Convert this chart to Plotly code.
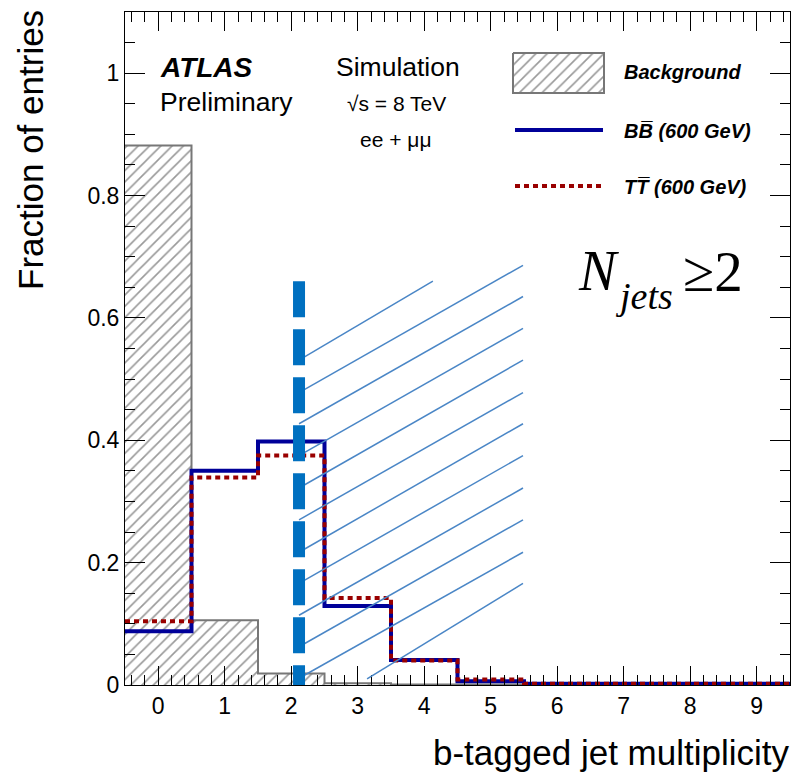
import plotly.graph_objects as go

# ---------------- data ----------------
bin_edges = [-0.5, 0.5, 1.5, 2.5, 3.5, 4.5, 5.5, 6.5, 7.5, 8.5, 9.5]
tick_labels = ["0", "1", "2", "3", "4", "5", "6", "7", "8", "9"]
background = [0.882, 0.106, 0.019, 0.003, 0.001, 0.001, 0.0, 0.0, 0.0, 0.0]
bb_600 = [0.088, 0.350, 0.398, 0.129, 0.041, 0.006, 0.002, 0.002, 0.002, 0.002]
tt_600 = [0.104, 0.339, 0.375, 0.142, 0.040, 0.009, 0.002, 0.002, 0.002, 0.002]

# hand-drawn overlay (dashed cut line + hatched region), in data units
cut_x = 2.117
cut_y_top = 0.660
hatch_x0 = [2.117] * 11 + [3.14]
hatch_y0 = [0.531, 0.478, 0.427, 0.375, 0.322, 0.270, 0.217, 0.166, 0.114, 0.0625, 0.011, 0.010]
hatch_x1 = [4.13] + [5.485] * 11
hatch_y1 = [0.660, 0.686, 0.635, 0.583, 0.531, 0.478, 0.427, 0.375, 0.322, 0.270, 0.217, 0.166]

FONT = "Liberation Sans, Arial, Helvetica, sans-serif"
SERIF = "Liberation Serif, Times New Roman, serif"
BLUE = "#000099"
RED = "#990000"
GRAY = "#777777"
HATCH = dict(shape="/", fgcolor="#333333", bgcolor="white", size=8, solidity=0.2)

# plot area in pixels (for placing decorations)
PL, PR, PT, PB = 125, 790, 12, 685


def step(vals):
    return list(vals) + [vals[-1]]


def px(x):
    return (x - PL) / (PR - PL)


def py(y):
    return (PB - y) / (PB - PT)


fig = go.Figure()

fig.add_trace(go.Scatter(
    x=bin_edges, y=step(background), mode="lines", line_shape="hv",
    line=dict(color=GRAY, width=2), fill="tozeroy", fillcolor="white",
    fillpattern=HATCH, showlegend=False, hoverinfo="skip"))
fig.add_trace(go.Scatter(
    x=bin_edges, y=step(bb_600), mode="lines", line_shape="hv",
    line=dict(color=BLUE, width=4), showlegend=False))
fig.add_trace(go.Scatter(
    x=bin_edges, y=step(tt_600), mode="lines", line_shape="hv",
    line=dict(color=RED, width=4, dash="5px,4px"), showlegend=False))

# legend hatched box on pixel overlay axes
fig.add_trace(go.Scatter(
    x=[513, 604, 604, 513, 513], y=[53, 53, 93, 93, 53], xaxis="x2", yaxis="y2",
    mode="lines", line=dict(color=GRAY, width=2), fill="toself", fillcolor="white",
    fillpattern=HATCH, showlegend=False, hoverinfo="skip"))

shapes = []
for a, b, c, d in zip(hatch_x0, hatch_y0, hatch_x1, hatch_y1):
    shapes.append(dict(type="line", xref="x", yref="y", x0=a, y0=b, x1=c, y1=d,
                       line=dict(color="#4a86c6", width=1.5)))
shapes.append(dict(type="line", xref="x", yref="y", x0=cut_x, y0=cut_y_top, x1=cut_x, y1=0,
                   line=dict(color="#0070c0", width=12, dash="36px,12px")))
shapes.append(dict(type="line", xref="x2", yref="y2", x0=515, x1=603, y0=130, y1=130,
                   line=dict(color=BLUE, width=4)))
shapes.append(dict(type="line", xref="x2", yref="y2", x0=515, x1=603, y0=186, y1=186,
                   line=dict(color=RED, width=4, dash="5px,4px")))

ann = []


def txt(s, x, y, size, xanchor="left", yanchor="middle", family=FONT, angle=0):
    ann.append(dict(text=s, x=px(x), y=py(y), xref="paper", yref="paper", showarrow=False,
                    xanchor=xanchor, yanchor=yanchor, textangle=angle,
                    font=dict(family=family, size=size, color="black")))


txt("<b><i>ATLAS</i></b>", 158, 67, 28)
txt("Preliminary", 158, 102, 26.5)
txt("Simulation", 334, 67, 26.5)
txt("√s = 8 TeV", 396, 104, 21, xanchor="center")
txt("ee + μμ", 396, 139, 21, xanchor="center")
txt("<b><i>Background</i></b>", 622, 72, 20)
txt("<b><i>BB\u0305 (600 GeV)</i></b>", 622, 131, 20)
txt("<b><i>TT\u0305 (600 GeV)</i></b>", 622, 187, 20)
txt("<i>N</i>", 576, 271, 56, family=SERIF)
txt("<i>jets</i>", 613, 296, 38, family=SERIF)
txt("≥2", 681, 271, 57, family=SERIF)
txt("Fraction of entries", 30, 8, 35, xanchor="center", yanchor="top", angle=-90)
txt("b-tagged jet multiplicity", 791, 752, 35, xanchor="right")

fig.update_layout(
    width=792, height=772,
    margin=dict(l=PL, r=792 - PR, t=PT, b=772 - PB),
    paper_bgcolor="white", plot_bgcolor="white",
    showlegend=False,
    font=dict(family=FONT, size=23, color="black"),
    xaxis=dict(range=[-0.5, 9.5], tickvals=list(range(10)), ticktext=tick_labels,
               ticks="inside", ticklen=19, tickwidth=1, tickcolor="black",
               minor=dict(dtick=0.2, tick0=0, ticks="inside", ticklen=10, tickcolor="black"),
               showline=True, linecolor="black", linewidth=1, mirror="allticks",
               showgrid=False, zeroline=False, tickfont=dict(size=23)),
    yaxis=dict(range=[0, 1.1], dtick=0.2, tick0=0,
               ticks="inside", ticklen=20, tickwidth=1, tickcolor="black",
               minor=dict(dtick=0.05, tick0=0, ticks="inside", ticklen=10, tickcolor="black"),
               showline=True, linecolor="black", linewidth=1, mirror="allticks",
               showgrid=False, zeroline=False, tickfont=dict(size=23)),
    xaxis2=dict(overlaying="x", range=[PL, PR], visible=False, fixedrange=True),
    yaxis2=dict(overlaying="y", range=[PB, PT], visible=False, fixedrange=True),
    shapes=shapes,
    annotations=ann,
)

fig.write_html("out.html")
